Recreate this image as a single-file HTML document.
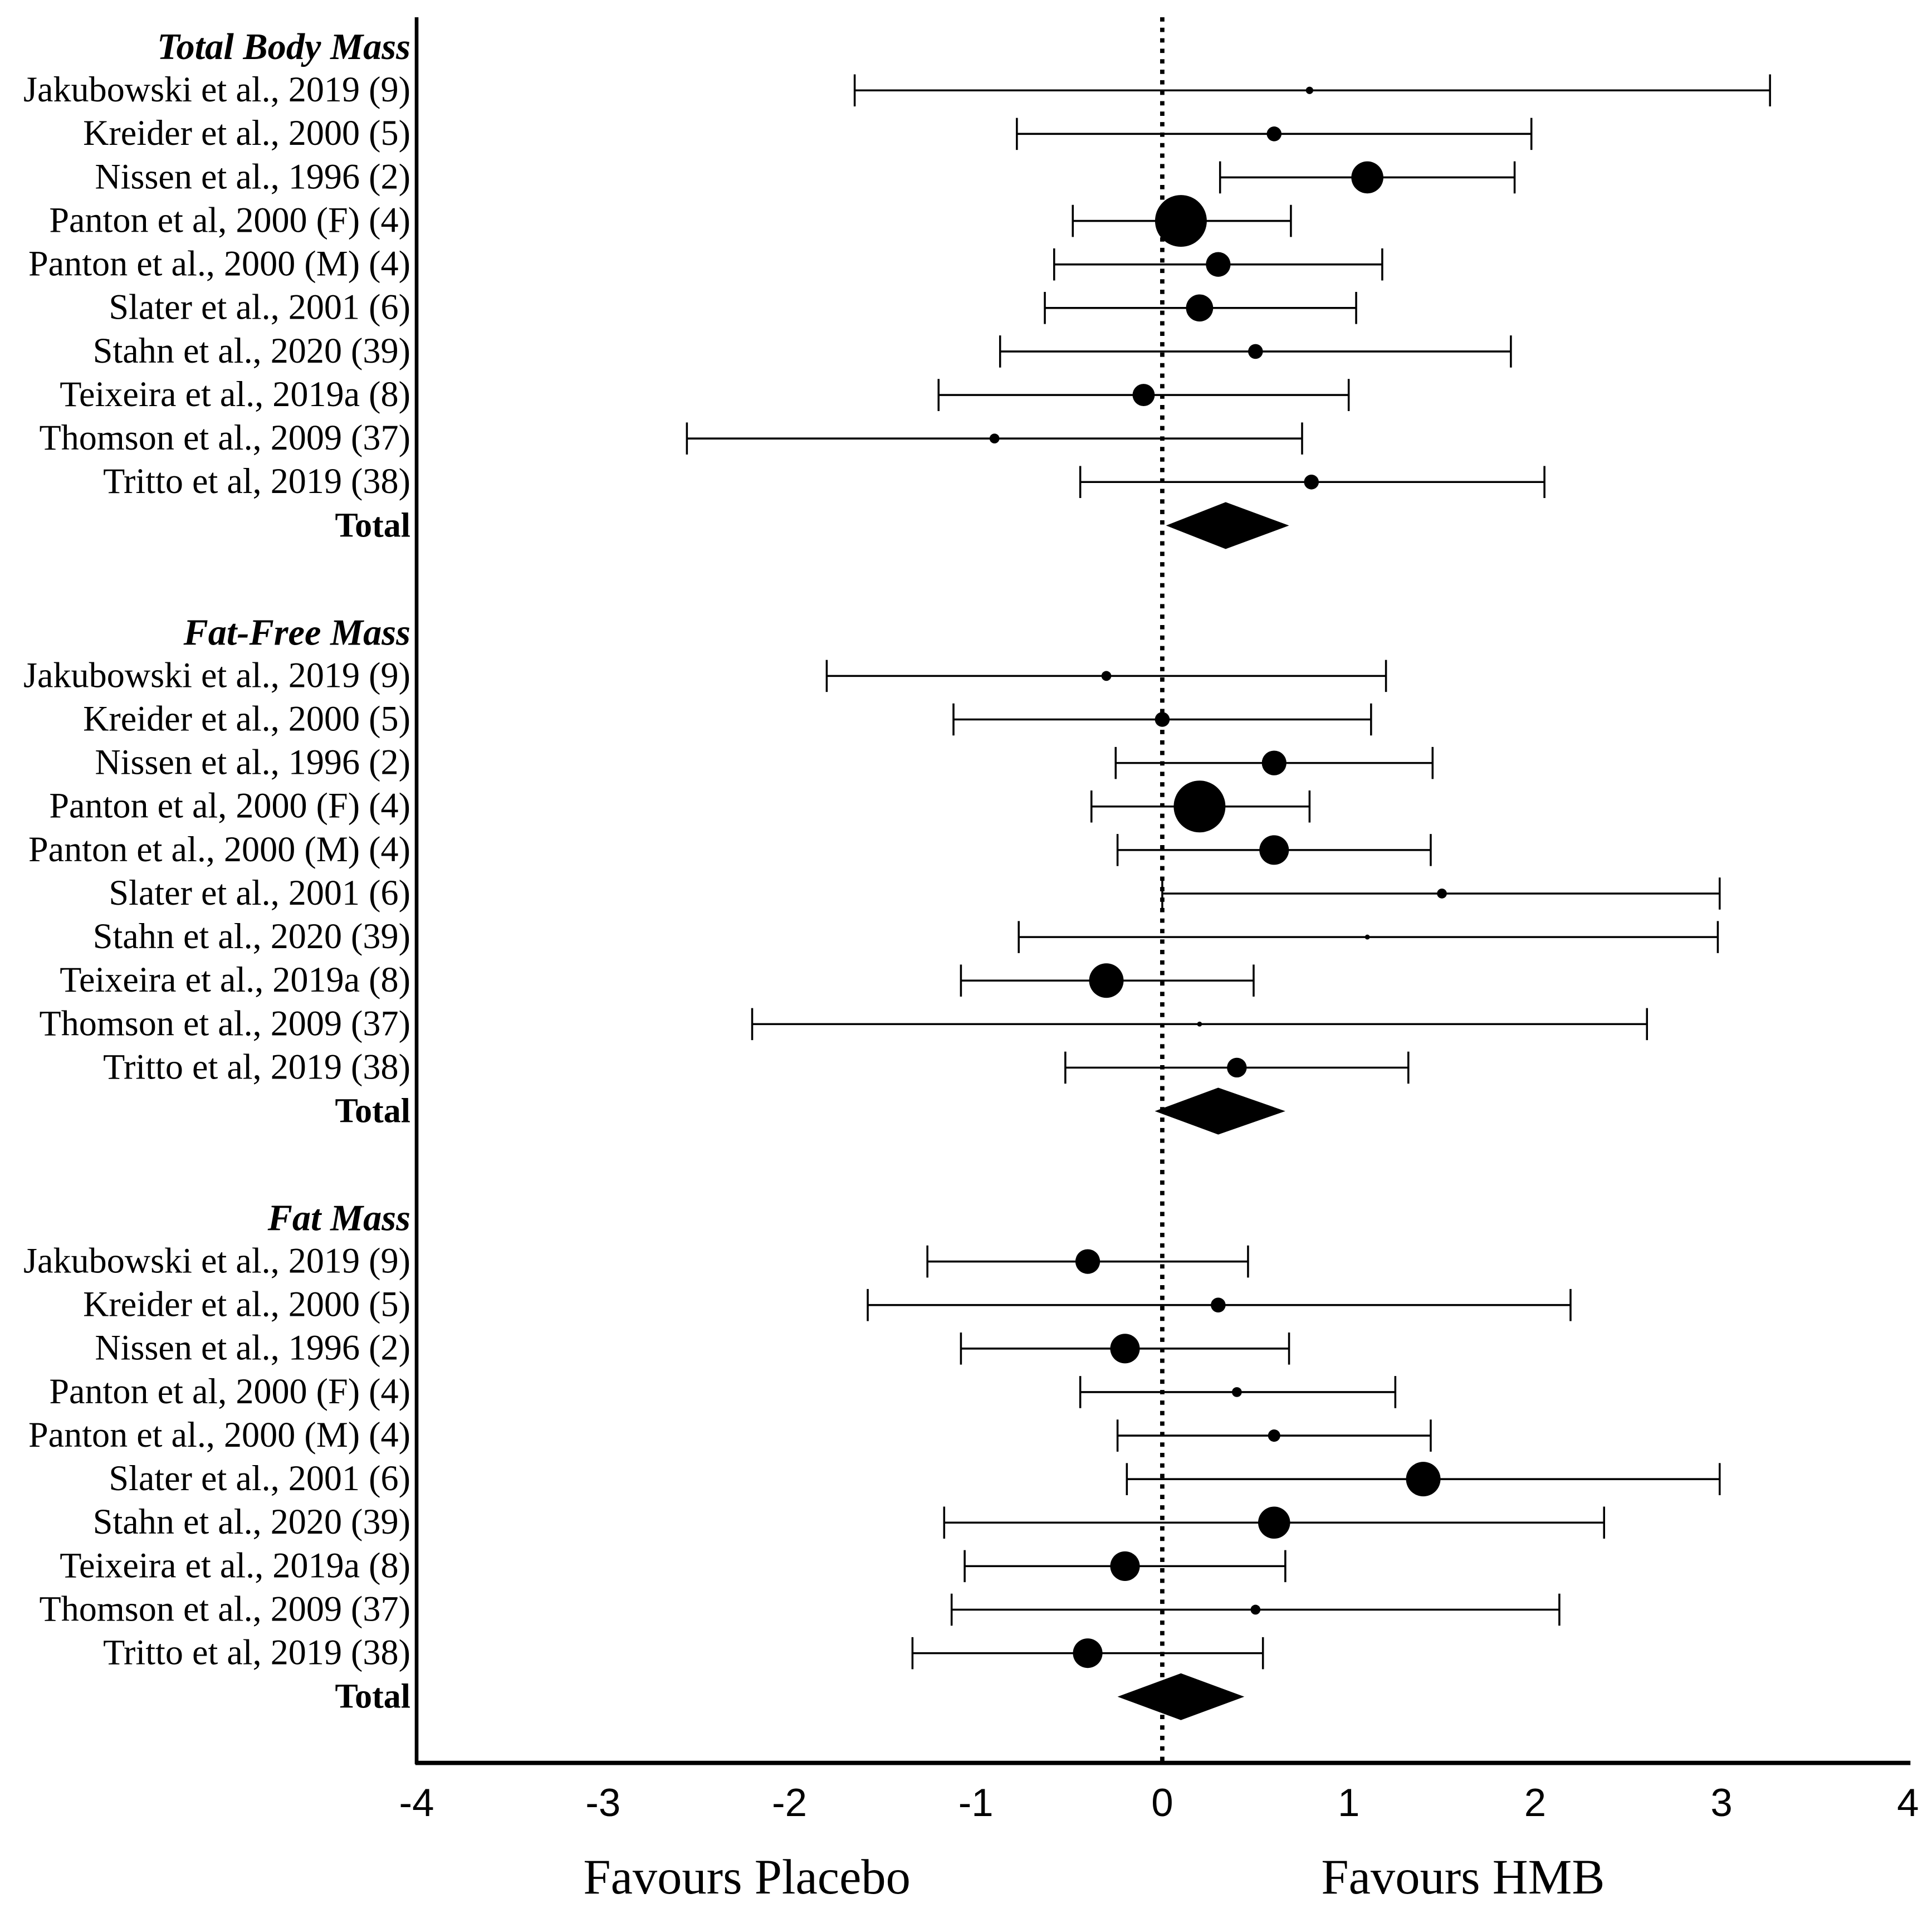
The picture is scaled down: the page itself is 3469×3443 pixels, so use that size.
<!DOCTYPE html>
<html><head><meta charset="utf-8"><style>
html,body{margin:0;padding:0;background:#fff;}
svg{display:block;}
</style></head><body>
<svg id="chart" width="3469" height="3443" viewBox="0 0 1567.5 1555.8" preserveAspectRatio="none" xmlns="http://www.w3.org/2000/svg">
<rect width="1567.5" height="1555.8" fill="#fff"/>
<g id="marks"></g>
</svg>
<script>
const ticks = [-4,-3,-2,-1,0,1,2,3,4];
const studies = ["Jakubowski et al., 2019 (9)","Kreider et al., 2000 (5)","Nissen et al., 1996 (2)","Panton et al, 2000 (F) (4)","Panton et al., 2000 (M) (4)","Slater et al., 2001 (6)","Stahn et al., 2020 (39)","Teixeira et al., 2019a (8)","Thomson et al., 2009 (37)","Tritto et al, 2019 (38)"];
const groups = ["Total Body Mass","Fat-Free Mass","Fat Mass"];
const tbmEst = [0.79,0.6,1.1,0.1,0.3,0.2,0.5,-0.1,-0.9,0.8];
const tbmLo = [-1.65,-0.78,0.31,-0.48,-0.58,-0.63,-0.87,-1.2,-2.55,-0.44];
const tbmHi = [3.26,1.98,1.89,0.69,1.18,1.04,1.87,1.0,0.75,2.05];
const tbmW = [3,6,13,21,10,11,6,9,4,6];
const ffmEst = [-0.3,0,0.6,0.2,0.6,1.5,1.1,-0.3,0.2,0.4];
const ffmLo = [-1.8,-1.12,-0.25,-0.38,-0.24,0.0,-0.77,-1.08,-2.2,-0.52];
const ffmHi = [1.2,1.12,1.45,0.79,1.44,2.99,2.98,0.49,2.6,1.32];
const ffmW = [4,6,10,21,12,4,2,14,2,8];
const fmEst = [-0.4,0.3,-0.2,0.4,0.6,1.4,0.6,-0.2,0.5,-0.4];
const fmLo = [-1.26,-1.58,-1.08,-0.44,-0.24,-0.19,-1.17,-1.06,-1.13,-1.34];
const fmHi = [0.46,2.19,0.68,1.25,1.44,2.99,2.37,0.66,2.13,0.54];
const fmW = [10,6,12,4,5,14,13,12,4,12];
const totalEst = [0.34,0.3,0.1];
const totalLo = [0.02,-0.04,-0.24];
const totalHi = [0.68,0.66,0.44];

const NS="http://www.w3.org/2000/svg";
const g=document.getElementById('marks');
const X0=338,X1=1548,XMIN=-4,XMAX=4;
function x(v){return X0+(v-XMIN)/(XMAX-XMIN)*(X1-X0);}
const groupTop=[38,513,988], rowH=35.3;
function mk(tag,attrs,parent){const e=document.createElementNS(NS,tag);for(const k in attrs)e.setAttribute(k,attrs[k]);(parent||g).appendChild(e);return e;}
const serif='"Liberation Serif", serif', sans='"Liberation Sans", sans-serif';

let e=mk('line',{x1:338,y1:14,x2:338,y2:1431,stroke:'#000','stroke-width':3});


e=mk('line',{x1:337,y1:1430,x2:1550,y2:1430,stroke:'#000','stroke-width':3.5});


e=mk('line',{x1:x(0),y1:14,x2:x(0),y2:1430,stroke:'#000','stroke-width':3.5,'stroke-dasharray':'3.5 5'});


ticks.forEach(t=>{
  const tx=mk('text',{x:x(t),y:1473,'font-family':sans,'font-size':32,'text-anchor':'middle'});
  tx.textContent=String(t);
  
  
});
e=mk('text',{x:606,y:1536,'font-family':serif,'font-size':40,'text-anchor':'middle'});e.textContent='Favours Placebo';


e=mk('text',{x:1187,y:1536,'font-family':serif,'font-size':40,'text-anchor':'middle'});e.textContent='Favours HMB';



const data=[[tbmEst,tbmLo,tbmHi,tbmW],[ffmEst,ffmLo,ffmHi,ffmW],[fmEst,fmLo,fmHi,fmW]];
groups.forEach((gn,gi)=>{
  const top=groupTop[gi];
  let h=mk('text',{x:333,y:top+10,'font-family':serif,'font-size':30,'font-style':'italic','font-weight':'bold','text-anchor':'end'});
  h.textContent=gn;
  
  
  const [est,lo,hi,w]=data[gi];
  studies.forEach((s,i)=>{
    const y=top+rowH*(i+1);
    const t=mk('text',{x:333,y:y+9,'font-family':serif,'font-size':29,'text-anchor':'end'});
    t.textContent=s;
    
    
    const ci=mk('path',{d:`M${x(lo[i])},${y-13}V${y+13}M${x(lo[i])},${y}H${x(hi[i])}M${x(hi[i])},${y-13}V${y+13}`,stroke:'#000','stroke-width':1.6,fill:'none'});
    
    
    const c=mk('circle',{cx:x(est[i]),cy:y,r:w[i],fill:'#000'});
    
    
  });
  const ty=top+rowH*11;
  const tt=mk('text',{x:333,y:ty+9,'font-family':serif,'font-size':28,'font-weight':'bold','text-anchor':'end'});
  tt.textContent='Total';
  
  
  const d=mk('polygon',{points:`${x(totalLo[gi])},${ty} ${x(totalEst[gi])},${ty-19} ${x(totalHi[gi])},${ty} ${x(totalEst[gi])},${ty+19}`,fill:'#000'});
  
  
});
</script>
</body></html>
